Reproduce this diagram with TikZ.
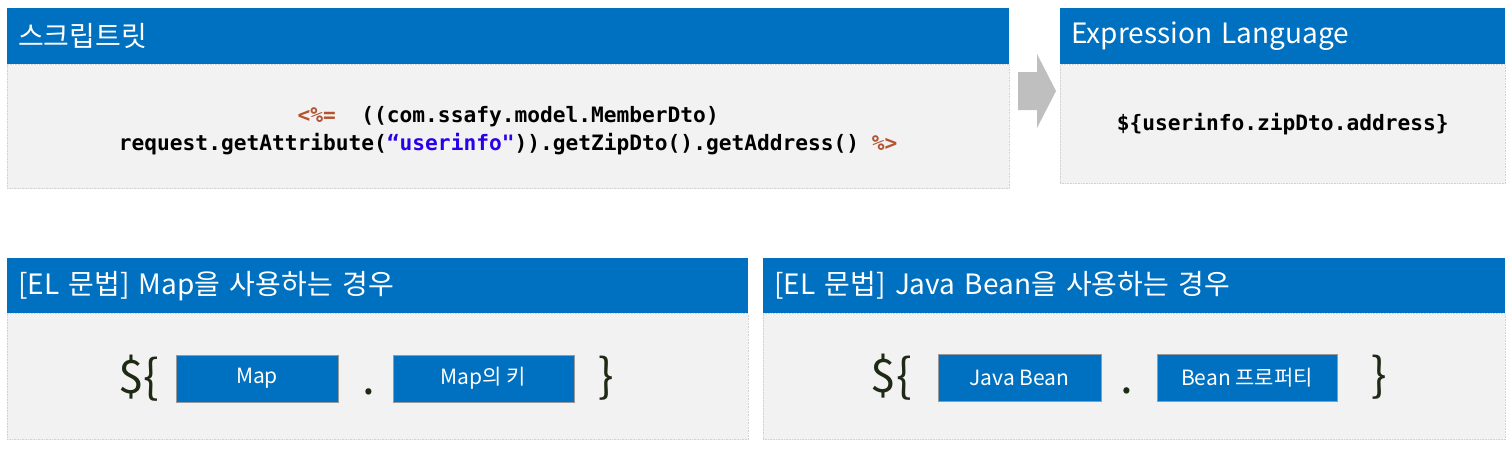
\documentclass[tikz,border=0pt]{standalone}
\usepackage{fontspec}
\setmainfont{Noto Sans CJK KR}
\newfontfamily\codefont{DejaVu Sans Mono}
\usetikzlibrary{positioning}

\definecolor{elblue}{HTML}{0070C0}
\definecolor{panelgray}{HTML}{F2F2F2}
\definecolor{tagred}{HTML}{B4532F}
\definecolor{strblue}{HTML}{2A00E8}
\definecolor{bracedark}{HTML}{1E2A14}
\definecolor{arrowgray}{HTML}{BFBFBF}

\tikzset{
  header/.style={fill=elblue, text=white, minimum height=56pt, inner xsep=11pt,
                 align=left, anchor=north west, font=\fontsize{28}{31}\selectfont},
  panel/.style={fill=panelgray, draw=gray!35, densely dotted, line width=0.6pt,
                inner sep=0pt},
  keybox/.style={fill=elblue, draw=gray!80, thin, text=white, minimum height=47pt,
                 font=\fontsize{21}{25}\selectfont},
  bracetext/.style={text=bracedark, font=\fontsize{46}{50}\selectfont},
  code/.style={font=\codefont\bfseries\fontsize{21.2}{28}\selectfont, align=center}
}

\begin{document}
\begin{tikzpicture}[x=1pt, y=-1pt]
  \useasboundingbox (0,0) rectangle (1511,451);

  % Scriptlet panel
  \node[header, text width=980pt] (scriptHead) at (7,8) {스크립트릿};
  \node[panel, below=0pt of scriptHead, minimum width=1002pt, minimum height=124pt]
       (scriptBody) {};
  \node[code] (scriptCode) at ([yshift=-4pt]scriptBody.center)
       {\textcolor{tagred}{<\%=}\ \ ((com.ssafy.model.MemberDto)\\
        request.getAttribute(\textcolor{strblue}{“userinfo"})).getZipDto().getAddress()
        \textcolor{tagred}{\%>}};

  % block arrow between the two
  \fill[arrowgray] (1018,72) -- (1037,72) -- (1037,54) -- (1056,91)
                   -- (1037,128) -- (1037,110) -- (1018,110) -- cycle;

  % Expression Language panel
  \node[header, text width=423pt] (elHead) at (1060,8) {Expression Language};
  \node[panel, below=0pt of elHead, minimum width=445pt, minimum height=119pt]
       (elBody) {};
  \node[code] (elCode) at (elBody.center) {\$\{userinfo.zipDto.address\}};

  % Map syntax
  \node[header, text width=719pt, minimum height=55pt] (mapHead) at (7,258)
       {[EL 문법] Map을 사용하는 경우};
  \node[panel, below=0pt of mapHead, minimum width=741pt, minimum height=126pt]
       (mapBody) {};
  \node[bracetext] (mapOpen) at (139,378) {\$\{};
  \node[keybox, minimum width=162pt] (mapObj) at (257,378.5) {Map};
  \node[bracetext, anchor=base] (mapDot) at (369,394) {.};
  \node[keybox, minimum width=181pt] (mapKey) at (483.5,378.5) {Map의 키};
  \node[bracetext] (mapClose) at (606,378) {\}};

  % Java Bean syntax
  \node[header, text width=720pt, minimum height=55pt] (beanHead) at (763,258)
       {[EL 문법] Java Bean을 사용하는 경우};
  \node[panel, below=0pt of beanHead, minimum width=742pt, minimum height=126pt]
       (beanBody) {};
  \node[bracetext] (beanOpen) at (891,377) {\$\{};
  \node[keybox, minimum width=163pt] (beanObj) at (1019.5,377.5) {Java Bean};
  \node[bracetext, anchor=base] (beanDot) at (1127,393) {.};
  \node[keybox, minimum width=180pt] (beanProp) at (1247,377.5) {Bean 프로퍼티};
  \node[bracetext] (beanClose) at (1379,377) {\}};
\end{tikzpicture}
\end{document}
